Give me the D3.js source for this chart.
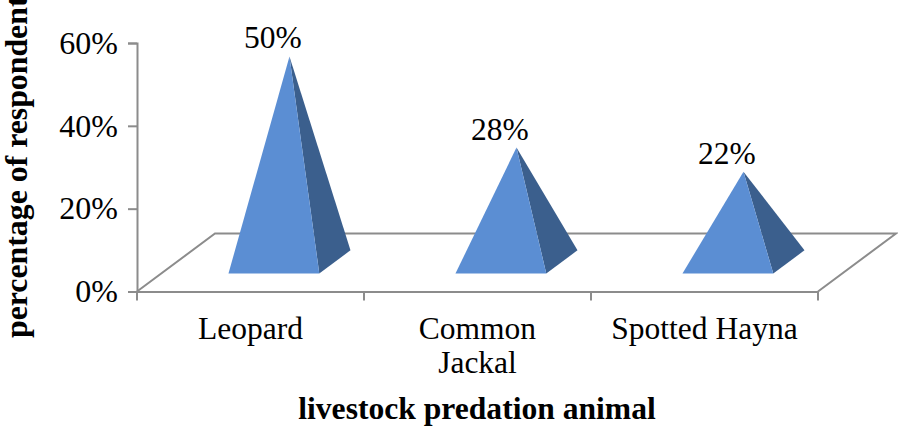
<!DOCTYPE html>
<html><head><meta charset="utf-8">
<script src="https://cdnjs.cloudflare.com/ajax/libs/d3/7.8.5/d3.min.js"></script>
<style>html,body{margin:0;padding:0;background:#fff}svg{display:block}text{font-family:"Liberation Serif",serif;fill:#000}</style>
</head><body><svg id="c" width="898" height="428"></svg>
<script>
const categories = ["Leopard", "Common Jackal", "Spotted Hayna"];
const categoryLines = [["Leopard"], ["Common", "Jackal"], ["Spotted Hayna"]];
const values = [50, 28, 22];
const apexValues = [49.6, 27.6, 21.8];
const yTicks = [0, 20, 40, 60];
const xTitle = "livestock predation animal";
const yTitle = "percentage of respondents";

const svg = d3.select("#c");
const axisColor = "#8c8c8c";
const x = d3.scaleBand().domain(categories).range([137, 818]).paddingInner(0).paddingOuter(0);
const y = d3.scaleLinear().domain([0, 60]).range([291.5, 43]);
// floor skew of the 3-D plot
const depthX = 78, depthY = 58;
const project = (px, d) => [px + d * depthX, y(0) - d * depthY];
const frontD = 0.31, backD = 0.71, midD = (frontD + backD) / 2;
const halfW = x.bandwidth() * 0.2;
const nudge = -0.8;

// floor
const floor = [[x.range()[0], 0], [x.range()[0], 1], [x.range()[1], 1], [x.range()[1], 0]]
  .map(([p, d]) => project(p, d));
svg.append("path").attr("d", d3.line()(floor)).attr("fill", "none")
  .attr("stroke", axisColor).attr("stroke-width", 2);

// axes
const yAxis = d3.axisLeft(y).tickValues(yTicks).tickFormat(d => d + "%").tickSize(9).tickPadding(10);
const gy = svg.append("g").attr("transform", `translate(${x.range()[0]},0)`).call(yAxis);
const xAxis = d3.axisBottom(x).tickValues([]).tickSizeOuter(0);
const gx = svg.append("g").attr("transform", `translate(0,${y(0)})`).call(xAxis);
const xEdges = [x.range()[0]].concat(categories.map(c => x(c) + x.bandwidth()));
gx.selectAll("line.edge").data(xEdges).join("line").attr("class", "edge")
  .attr("x1", d => d).attr("x2", d => d).attr("y1", 0).attr("y2", 9);
svg.selectAll("g .domain, g .tick line, g .edge").attr("stroke", axisColor).attr("stroke-width", 2);
gy.selectAll("text").style("font-size", "32px").style("font-family", '"Liberation Serif",serif').attr("fill", "#000");

// pyramids
categories.forEach((c, i) => {
  const cx = x(c) + x.bandwidth() / 2;
  const fl = project(cx + nudge - halfW, frontD), fr = project(cx + nudge + halfW, frontD);
  const br = project(cx + nudge + halfW, backD);
  const m = project(cx + nudge, midD);
  const apex = [m[0], m[1] - (y(0) - y(apexValues[i]))];
  svg.append("path").attr("d", d3.line()([fr, br, apex]) + "Z").attr("fill", "#3b5f8d");
  svg.append("path").attr("d", d3.line()([fl, fr, apex]) + "Z").attr("fill", "#5b8ed3");
  svg.append("text").attr("x", apex[0] - 16.5).attr("y", apex[1] - 8)
    .attr("text-anchor", "middle").style("font-size", "31.5px").text(values[i] + "%");
  categoryLines[i].forEach((t, j) => {
    svg.append("text").attr("x", cx).attr("y", 339 + j * 34)
      .attr("text-anchor", "middle").style("font-size", "31.5px").text(t);
  });
});

// titles
svg.append("text").attr("x", 477).attr("y", 419).attr("text-anchor", "middle")
  .style("font-size", "31.6px").style("font-weight", "bold").text(xTitle);
svg.append("text").attr("transform", "translate(27,338) rotate(-90)")
  .style("font-size", "31.8px").style("font-weight", "bold").text(yTitle);
</script></body></html>
